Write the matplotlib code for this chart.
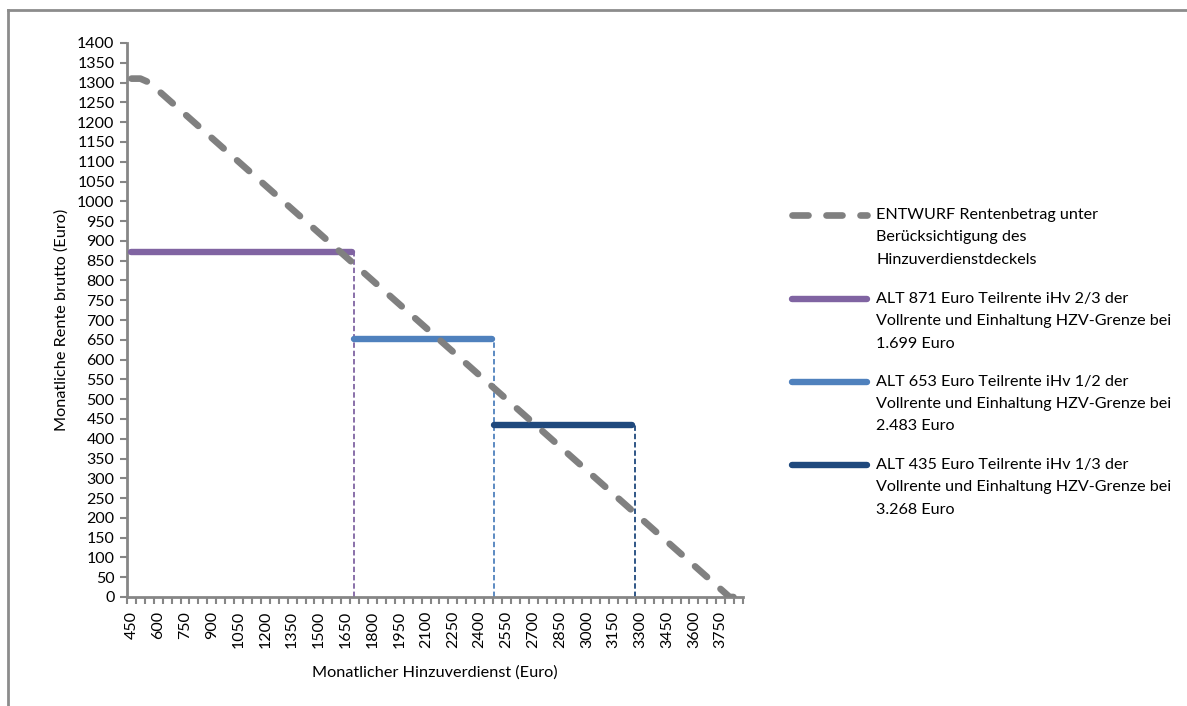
import matplotlib
matplotlib.use("Agg")
import matplotlib.pyplot as plt
from matplotlib.lines import Line2D

# categories on the x axis (monthly additional earnings, Euro)
categories = list(range(450, 3851, 50))

# ENTWURF: pension amount under the earnings cap
entwurf = [1310, 1310,
           1300, 1280, 1260, 1240, 1220, 1200, 1180, 1160, 1140, 1120,
           1100, 1080, 1060, 1040, 1020, 1000, 980, 960, 940, 920,
           900, 880, 860, 840, 820, 800, 780, 760, 740, 720,
           700, 680, 660, 640, 620, 600, 580, 560, 540, 520,
           500, 480, 460, 440, 420, 400, 380, 360, 340, 320,
           300, 280, 260, 240, 220, 200, 180, 160, 140, 120,
           100, 80, 60, 40, 20, 0,
           0]

# ALT: partial pensions, constant amount up to the earnings limit
alt_start = [450, 1699, 2483]
alt_limit = [1699, 2483, 3268]
alt_value = [871, 653, 435]
alt_colors = ["#8064A2", "#4F81BD", "#1F497D"]

legend_labels = [
    "ENTWURF Rentenbetrag unter\nBerücksichtigung des\nHinzuverdienstdeckels",
    "ALT 871 Euro Teilrente iHv 2/3 der\nVollrente und Einhaltung HZV-Grenze bei\n1.699 Euro",
    "ALT 653 Euro Teilrente iHv 1/2 der\nVollrente und Einhaltung HZV-Grenze bei\n2.483 Euro",
    "ALT 435 Euro Teilrente iHv 1/3 der\nVollrente und Einhaltung HZV-Grenze bei\n3.268 Euro",
]

plt.rcParams["font.family"] = ["Lato", "DejaVu Sans"]
axis_grey = "#868686"
dash_grey = "#808080"

fig = plt.figure(figsize=(11.87, 7.06), dpi=100)
ax = fig.add_axes([127 / 1187, 1 - 597 / 706, 616 / 1187, 554 / 706])

# ALT lines + drop lines at the earnings limit
for x0, x1, v, c in zip(alt_start, alt_limit, alt_value, alt_colors):
    ax.plot([x0, x1 - 15], [v, v], color=c, lw=4.6, solid_capstyle="round", zorder=3)
    ax.plot([x1, x1], [0, v], color=c, lw=1.3, linestyle=(0, (3, 1.6)), zorder=2)

# ENTWURF dashed line
ax.plot(categories, entwurf, color=dash_grey, lw=4.8, linestyle=(0, (2.4, 2.7)),
        dash_capstyle="round", solid_joinstyle="round", zorder=4)

ax.set_xlim(425, 3875)
ax.set_ylim(0, 1400)

# tick marks between categories, labels every third category
ax.set_xticks([c - 25 for c in categories] + [categories[-1] + 25])
ax.set_xticklabels([])
ax.set_xticks(categories[::3], [str(c) for c in categories[::3]], minor=True)
ax.tick_params(axis="x", which="major", direction="out", length=5, width=1.5, color=axis_grey)
ax.tick_params(axis="x", which="minor", length=0, pad=10, labelrotation=90, labelsize=11.5)

ax.set_yticks(range(0, 1401, 50))
ax.tick_params(axis="y", direction="out", length=5, width=1.5, color=axis_grey,
               labelsize=11.5, pad=4)

for s in ["top", "right"]:
    ax.spines[s].set_visible(False)
for s in ["left", "bottom"]:
    ax.spines[s].set_color(axis_grey)
    ax.spines[s].set_linewidth(2)

ax.set_xlabel("Monatlicher Hinzuverdienst (Euro)", fontsize=11.7, labelpad=12)
ax.set_ylabel("Monatliche Rente brutto (Euro)", fontsize=11.7, labelpad=6)

# legend drawn by hand so the handles sit on the first text line
W, H = 1187, 706
entry_y = [215, 299, 382, 465]
handle_styles = [
    dict(color=dash_grey, lw=4.8, linestyle=(0, (2.4, 2.7)), dash_capstyle="round"),
    dict(color=alt_colors[0], lw=4.6, solid_capstyle="round"),
    dict(color=alt_colors[1], lw=4.6, solid_capstyle="round"),
    dict(color=alt_colors[2], lw=4.6, solid_capstyle="round"),
]
for y, lab, st in zip(entry_y, legend_labels, handle_styles):
    fig.add_artist(Line2D([792 / W, 867 / W], [1 - y / H, 1 - y / H], **st))
    fig.text(876 / W, 1 - (y - 7) / H, lab, fontsize=11.6, va="top", ha="left",
             linespacing=1.75)

# outer chart frame (top and left edges visible)
frame = dict(color="#8c8c8c", lw=2)
fig.add_artist(Line2D([8 / W, 1], [1 - 10 / H, 1 - 10 / H], **frame))
fig.add_artist(Line2D([8 / W, 8 / W], [0, 1 - 10 / H], **frame))

fig.savefig("out.png", dpi=100)
